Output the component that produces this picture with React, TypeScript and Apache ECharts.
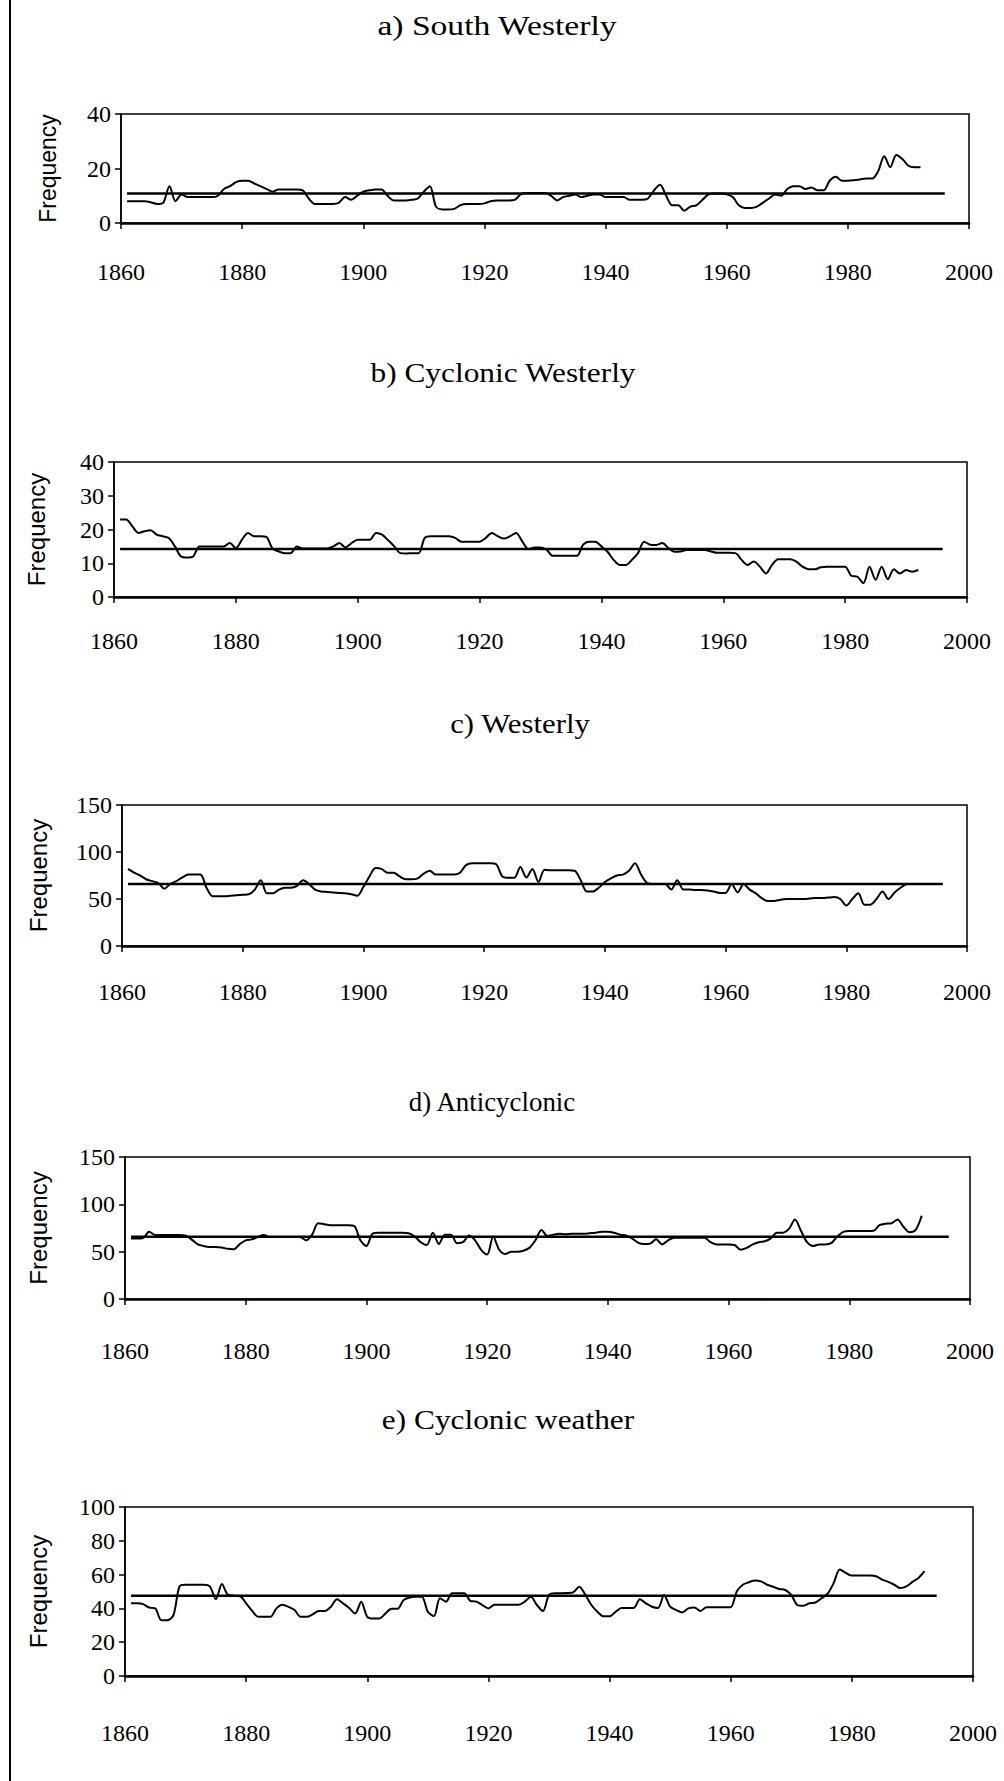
import React, { useEffect, useRef } from "react";
import * as echarts from "echarts";

const startYear = 1861;
const xTicks = [1860, 1880, 1900, 1920, 1940, 1960, 1980, 2000];

// a) South Westerly, 1861-1992
const southWesterly = [
  8, 8, 8, 8, 7.5, 7, 7.5, 13.5, 8, 10.5,
  9.5, 9.5, 9.5, 9.5, 9.5, 10, 12.5, 13.5, 15, 15.5,
  15.5, 14.5, 13.5, 12.5, 11.5, 12.3, 12.3, 12.3, 12.3, 12,
  9, 7, 7, 7, 7, 7.5, 9.5, 8.5, 10, 11.5,
  12, 12.3, 12.3, 10, 8.3, 8.3, 8.3, 8.5, 9, 11.5,
  13.5, 6, 5, 5, 5.2, 6.5, 7, 7, 7, 7.2,
  8, 8.3, 8.3, 8.3, 8.5, 10.5, 11, 11, 11, 11,
  10, 8.3, 9.5, 10, 10.5, 9.5, 10, 10.5, 10.5, 9.5,
  9.5, 9.5, 9.5, 8.5, 8.5, 8.5, 9, 12, 14, 10,
  6.5, 6.5, 4.5, 6, 6.5, 8.5, 10.5, 10.8, 10.8, 10.5,
  9.5, 6.5, 5.5, 5.5, 6, 7.5, 9, 10.5, 10, 12.5,
  13.5, 13.5, 12.5, 13, 12, 12, 15.5, 17, 15.5, 15.5,
  15.7, 16, 16.3, 16.3, 19, 24.5, 20.5, 25, 23.5, 21,
  20.5, 20.5,
];

// b) Cyclonic Westerly, 1861-1992
const cyclonicWesterly = [
  23, 23, 21, 19, 19.5, 19.8, 18.5, 18, 17.5, 15,
  12, 11.7, 12, 15, 15, 15, 15, 15, 16, 14.5,
  17, 19, 18, 18, 17.8, 14.4, 13.5, 13, 13, 15,
  14.4, 14.4, 14.4, 14.4, 14.4, 15, 16, 14.7, 16, 17,
  17, 17, 19, 18.5, 16.8, 15, 13, 12.9, 13, 13,
  17.5, 18, 18, 18, 18, 17.5, 16.4, 16.4, 16.4, 16.4,
  17.5, 19, 18, 17.3, 18, 19, 16.5, 14.2, 14.7, 14.7,
  14, 12.2, 12.2, 12.2, 12.2, 12.2, 15.5, 16.4, 16.4, 15,
  13.4, 11, 9.5, 9.5, 11, 13, 16.4, 15.5, 15.4, 16,
  14.5, 13.4, 13.5, 13.9, 13.9, 13.9, 13.9, 13.5, 13.1, 13.1,
  13.1, 13, 11, 9.5, 10.5, 9, 7, 9.5, 11.2, 11.2,
  11.2, 10.5, 9, 8.2, 8.2, 8.8, 9, 9, 9, 9,
  6.3, 6, 4.1, 9, 5.1, 9, 5.3, 8.2, 7, 8,
  7.5, 8,
];

// c) Westerly, 1861-1990
const westerly = [
  82, 78, 75, 71, 69, 67, 61, 66, 69, 73,
  76, 76, 76, 62, 53, 53, 53, 53.5, 54, 54.5,
  55, 60, 70, 56, 56, 60, 62, 62, 64, 70,
  66, 60, 58, 57.5, 57, 56.5, 56, 55, 53.5, 63,
  74, 83, 82, 78, 78, 74, 71, 71, 72, 77,
  80, 76, 76, 76, 76, 78, 86, 88, 88, 88,
  88, 87, 74, 72.5, 72.5, 84, 73, 82, 68, 81,
  80.5, 80.5, 80.5, 80.5, 80, 70, 58, 58, 62, 68,
  72, 75, 76, 80, 88, 76, 67, 66, 66, 66,
  60, 70, 60, 60, 59.5, 59.5, 59, 58, 56.5, 56.5,
  66, 57, 66, 60, 56, 51, 48, 48, 49, 50,
  50, 50, 50, 50.5, 51, 51, 51.5, 52, 50, 43,
  50, 56, 44, 44, 50, 58, 50, 57, 62, 66,
];

// d) Anticyclonic, 1861-1992
const anticyclonic = [
  64, 64, 64.5, 71, 67.5, 67.5, 67.5, 67.5, 67.5, 67,
  63, 58, 56, 55, 55, 54.5, 53, 52.5, 58, 62,
  63, 65.5, 67.5, 65.5, 65.5, 65.5, 65.5, 65.5, 65.5, 62,
  68, 80, 79, 78, 78, 78, 78, 77, 62, 56,
  69, 70, 70, 70, 70, 70, 69.5, 66, 60, 57,
  70, 58, 68, 68, 59, 60, 67, 62, 52, 47,
  66, 52, 47.5, 50, 50, 51, 54, 62, 73, 66.5,
  68, 69, 68.5, 69, 69, 69, 69.5, 70, 71, 71,
  70, 68, 67, 64, 59.5, 58, 58.5, 63, 57.7, 62,
  64.8, 64.8, 64.8, 64.8, 64.8, 64.8, 60, 57.7, 57.7, 57.7,
  57, 52, 54, 57.7, 60, 61, 64, 70, 70, 74,
  84, 72, 60, 56, 57.7, 57.7, 59, 66, 71, 71.8,
  71.8, 71.8, 71.8, 72, 78, 79.5, 80, 84, 76, 70.5,
  73, 88,
];

// e) Cyclonic weather, 1861-1992
const cyclonicWeather = [
  43, 43, 42.5, 40.5, 40, 33, 33, 36, 53, 54,
  54, 54, 54, 53, 45.5, 54.5, 48, 47.5, 47.2, 43,
  38.5, 35, 35, 35, 40, 42.2, 40.9, 39, 35, 35,
  36.5, 38.5, 38.5, 41, 45.4, 43, 40.3, 37, 44, 35,
  34, 34, 37, 39.8, 39.8, 45, 46.5, 46.9, 46.9, 38,
  35.5, 46, 44, 49, 49, 49, 44.5, 44, 42, 40,
  42.2, 42.2, 42.2, 42.2, 42.2, 44, 46.9, 42, 38.5, 48,
  49, 49, 49.1, 49.5, 52.8, 48, 42, 38, 35.3, 35.3,
  38, 40.3, 40.3, 40.3, 45.4, 43, 41, 40.3, 48, 41,
  39, 37.6, 40, 40.5, 38.5, 40.7, 40.7, 40.7, 40.7, 40.7,
  50, 54, 55.5, 56.5, 56, 54, 52.8, 51.5, 50.9, 48,
  42, 41.5, 43, 43.5, 46, 48.7, 55, 63, 61, 59.4,
  59.4, 59.4, 59.4, 59, 57, 55.7, 54, 52, 53, 55.7,
  58, 62,
];

const titles = [
  "a) South Westerly",
  "b) Cyclonic Westerly",
  "c) Westerly",
  "d) Anticyclonic",
  "e) Cyclonic weather",
];
const seriesValues = [southWesterly, cyclonicWesterly, westerly, anticyclonic, cyclonicWeather];
const meanValues = [10.8, 14.2, 66, 65.8, 47.5];
const meanStart = [1861, 1861, 1861, 1861, 1861];
const meanEnd = [1996, 1996, 1996, 1996.5, 1994];
const yMax = [40, 40, 150, 150, 100];
const yStep = [20, 10, 50, 50, 20];

// layout (pixels)
const layout = [
  { left: 121, top: 114, width: 848, height: 109, titleX: 497, titleY: 25, sx: 1.2, nameGap: 62, nameSize: 23, xMargin: 37 },
  { left: 114, top: 462, width: 853, height: 135, titleX: 503, titleY: 373, sx: 1.12, nameGap: 66, nameSize: 24, xMargin: 32 },
  { left: 122, top: 805, width: 845, height: 141, titleX: 520, titleY: 723, sx: 1.1, nameGap: 72, nameSize: 24, xMargin: 34 },
  { left: 125, top: 1157, width: 845, height: 142, titleX: 492, titleY: 1102, sx: 0.96, nameGap: 75, nameSize: 24, xMargin: 40 },
  { left: 125, top: 1507, width: 848, height: 169, titleX: 508, titleY: 1420, sx: 1.12, nameGap: 75, nameSize: 24, xMargin: 45 },
];

const serif = "'Liberation Serif', 'Times New Roman', serif";
const sans = "'Liberation Sans', Arial, sans-serif";

export default function App() {
  const ref = useRef<HTMLDivElement>(null);
  useEffect(() => {
    if (!ref.current) return;
    const chart = echarts.init(ref.current, undefined, { renderer: "svg" });
    const grid = layout.map((l) => ({
      left: l.left, top: l.top, width: l.width, height: l.height,
      show: true, borderColor: "#000", borderWidth: 1.5, backgroundColor: "transparent",
    }));
    const xAxis = layout.map((l, i) => ({
      type: "value", gridIndex: i, min: xTicks[0], max: xTicks[xTicks.length - 1], interval: 20,
      axisLine: { show: true, onZero: false, lineStyle: { color: "#000", width: 2.5 } },
      axisTick: { show: true, length: 6, lineStyle: { color: "#000", width: 1.5 } },
      axisLabel: {
        color: "#000", fontFamily: serif, fontSize: 24, margin: l.xMargin,
        formatter: (v: number) => String(v),
      },
      splitLine: { show: false },
    }));
    const yAxis = layout.map((l, i) => ({
      type: "value", gridIndex: i, min: 0, max: yMax[i], interval: yStep[i],
      name: "Frequency", nameLocation: "middle", nameRotate: 90, nameGap: l.nameGap,
      nameTextStyle: { color: "#000", fontFamily: sans, fontSize: l.nameSize },
      axisLine: { show: true, lineStyle: { color: "#000", width: 1.5 } },
      axisTick: { show: true, length: 6, lineStyle: { color: "#000", width: 1.5 } },
      axisLabel: {
        color: "#000", fontFamily: serif, fontSize: 24, margin: 10,
        formatter: (v: number) => String(v),
      },
      splitLine: { show: false },
    }));
    const series: any[] = [];
    seriesValues.forEach((vals, i) => {
      series.push({
        type: "line", xAxisIndex: i, yAxisIndex: i, showSymbol: false, symbol: "none",
        smooth: 0.3, data: vals.map((v, k) => [startYear + k, v]),
        lineStyle: { color: "#000", width: 2 }, z: 3,
      });
      series.push({
        type: "line", xAxisIndex: i, yAxisIndex: i, showSymbol: false, symbol: "none",
        data: [[meanStart[i], meanValues[i]], [meanEnd[i], meanValues[i]]],
        lineStyle: { color: "#000", width: 2.5 }, z: 2,
      });
    });
    const graphic: any[] = layout.map((l, i) => ({
      type: "text", x: l.titleX, y: l.titleY, scaleX: l.sx, scaleY: 1,
      style: {
        text: titles[i], font: `28px ${serif}`, fill: "#000",
        textAlign: "center", textVerticalAlign: "middle", align: "center", verticalAlign: "middle",
      },
    }));
    graphic.push({
      type: "line", shape: { x1: 10, y1: 0, x2: 10, y2: 1781 },
      style: { stroke: "#000", lineWidth: 2 },
    });
    chart.setOption({
      animation: false,
      backgroundColor: "#fff",
      grid, xAxis, yAxis, series, graphic,
    });
    return () => chart.dispose();
  }, []);
  return (
    <div
      ref={ref}
      style={{ position: "fixed", left: 0, top: 0, width: 1004, height: 1781, background: "#fff" }}
    />
  );
}
